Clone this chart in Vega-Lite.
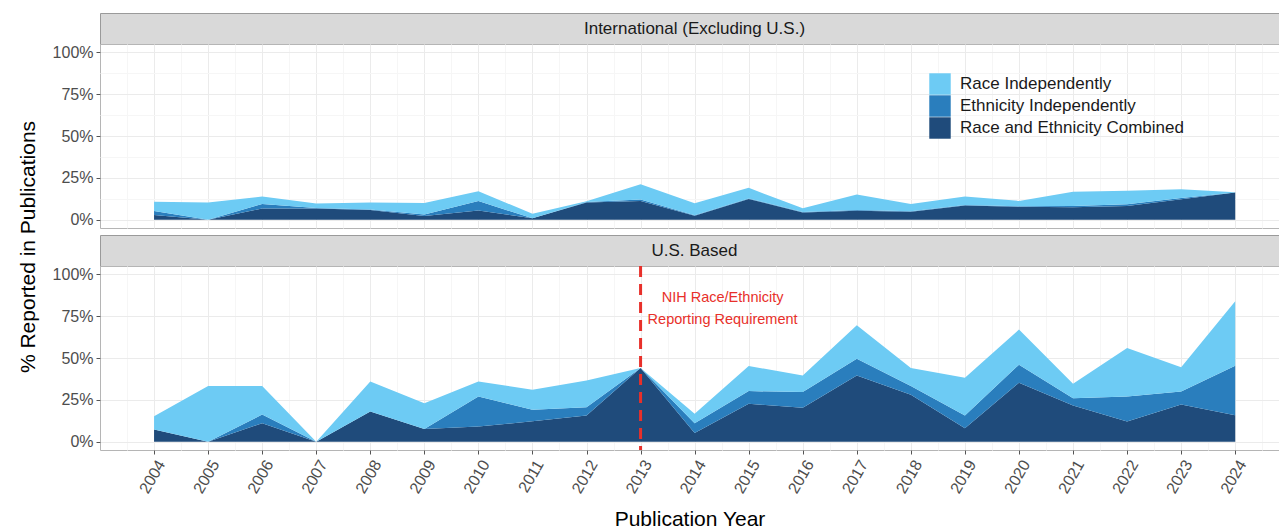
{
  "$schema": "https://vega.github.io/schema/vega-lite/v6.json",
  "background": "white",
  "padding": {"left": 16, "top": 12, "right": 0, "bottom": 0},
  "autosize": {"type": "pad"},
  "config": {
    "font": "Liberation Sans",
    "view": {"stroke": "#B5B5B5", "strokeWidth": 1},
    "axis": {
      "labelFont": "Liberation Sans",
      "titleFont": "Liberation Sans",
      "titleFontWeight": "normal",
      "domain": false
    }
  },
  "datasets": {
    "intl": [
      {"year": 2004, "type": "Race and Ethnicity Combined", "layer": 1, "share": 0.028},
      {"year": 2004, "type": "Ethnicity Independently", "layer": 2, "share": 0.024},
      {"year": 2004, "type": "Race Independently", "layer": 3, "share": 0.055},
      {"year": 2005, "type": "Race and Ethnicity Combined", "layer": 1, "share": 0.0},
      {"year": 2005, "type": "Ethnicity Independently", "layer": 2, "share": 0.0},
      {"year": 2005, "type": "Race Independently", "layer": 3, "share": 0.103},
      {"year": 2006, "type": "Race and Ethnicity Combined", "layer": 1, "share": 0.066},
      {"year": 2006, "type": "Ethnicity Independently", "layer": 2, "share": 0.028},
      {"year": 2006, "type": "Race Independently", "layer": 3, "share": 0.044},
      {"year": 2007, "type": "Race and Ethnicity Combined", "layer": 1, "share": 0.066},
      {"year": 2007, "type": "Ethnicity Independently", "layer": 2, "share": 0.003},
      {"year": 2007, "type": "Race Independently", "layer": 3, "share": 0.028},
      {"year": 2008, "type": "Race and Ethnicity Combined", "layer": 1, "share": 0.057},
      {"year": 2008, "type": "Ethnicity Independently", "layer": 2, "share": 0.003},
      {"year": 2008, "type": "Race Independently", "layer": 3, "share": 0.042},
      {"year": 2009, "type": "Race and Ethnicity Combined", "layer": 1, "share": 0.022},
      {"year": 2009, "type": "Ethnicity Independently", "layer": 2, "share": 0.008},
      {"year": 2009, "type": "Race Independently", "layer": 3, "share": 0.07},
      {"year": 2010, "type": "Race and Ethnicity Combined", "layer": 1, "share": 0.054},
      {"year": 2010, "type": "Ethnicity Independently", "layer": 2, "share": 0.057},
      {"year": 2010, "type": "Race Independently", "layer": 3, "share": 0.059},
      {"year": 2011, "type": "Race and Ethnicity Combined", "layer": 1, "share": 0.008},
      {"year": 2011, "type": "Ethnicity Independently", "layer": 2, "share": 0.0},
      {"year": 2011, "type": "Race Independently", "layer": 3, "share": 0.027},
      {"year": 2012, "type": "Race and Ethnicity Combined", "layer": 1, "share": 0.102},
      {"year": 2012, "type": "Ethnicity Independently", "layer": 2, "share": 0.003},
      {"year": 2012, "type": "Race Independently", "layer": 3, "share": 0.005},
      {"year": 2013, "type": "Race and Ethnicity Combined", "layer": 1, "share": 0.112},
      {"year": 2013, "type": "Ethnicity Independently", "layer": 2, "share": 0.008},
      {"year": 2013, "type": "Race Independently", "layer": 3, "share": 0.092},
      {"year": 2014, "type": "Race and Ethnicity Combined", "layer": 1, "share": 0.023},
      {"year": 2014, "type": "Ethnicity Independently", "layer": 2, "share": 0.003},
      {"year": 2014, "type": "Race Independently", "layer": 3, "share": 0.072},
      {"year": 2015, "type": "Race and Ethnicity Combined", "layer": 1, "share": 0.124},
      {"year": 2015, "type": "Ethnicity Independently", "layer": 2, "share": 0.003},
      {"year": 2015, "type": "Race Independently", "layer": 3, "share": 0.063},
      {"year": 2016, "type": "Race and Ethnicity Combined", "layer": 1, "share": 0.042},
      {"year": 2016, "type": "Ethnicity Independently", "layer": 2, "share": 0.003},
      {"year": 2016, "type": "Race Independently", "layer": 3, "share": 0.023},
      {"year": 2017, "type": "Race and Ethnicity Combined", "layer": 1, "share": 0.053},
      {"year": 2017, "type": "Ethnicity Independently", "layer": 2, "share": 0.005},
      {"year": 2017, "type": "Race Independently", "layer": 3, "share": 0.092},
      {"year": 2018, "type": "Race and Ethnicity Combined", "layer": 1, "share": 0.047},
      {"year": 2018, "type": "Ethnicity Independently", "layer": 2, "share": 0.003},
      {"year": 2018, "type": "Race Independently", "layer": 3, "share": 0.043},
      {"year": 2019, "type": "Race and Ethnicity Combined", "layer": 1, "share": 0.084},
      {"year": 2019, "type": "Ethnicity Independently", "layer": 2, "share": 0.003},
      {"year": 2019, "type": "Race Independently", "layer": 3, "share": 0.052},
      {"year": 2020, "type": "Race and Ethnicity Combined", "layer": 1, "share": 0.077},
      {"year": 2020, "type": "Ethnicity Independently", "layer": 2, "share": 0.003},
      {"year": 2020, "type": "Race Independently", "layer": 3, "share": 0.032},
      {"year": 2021, "type": "Race and Ethnicity Combined", "layer": 1, "share": 0.074},
      {"year": 2021, "type": "Ethnicity Independently", "layer": 2, "share": 0.008},
      {"year": 2021, "type": "Race Independently", "layer": 3, "share": 0.085},
      {"year": 2022, "type": "Race and Ethnicity Combined", "layer": 1, "share": 0.082},
      {"year": 2022, "type": "Ethnicity Independently", "layer": 2, "share": 0.01},
      {"year": 2022, "type": "Race Independently", "layer": 3, "share": 0.08},
      {"year": 2023, "type": "Race and Ethnicity Combined", "layer": 1, "share": 0.122},
      {"year": 2023, "type": "Ethnicity Independently", "layer": 2, "share": 0.008},
      {"year": 2023, "type": "Race Independently", "layer": 3, "share": 0.052},
      {"year": 2024, "type": "Race and Ethnicity Combined", "layer": 1, "share": 0.162},
      {"year": 2024, "type": "Ethnicity Independently", "layer": 2, "share": 0.0},
      {"year": 2024, "type": "Race Independently", "layer": 3, "share": 0.001}
    ],
    "us": [
      {"year": 2004, "type": "Race and Ethnicity Combined", "layer": 1, "share": 0.072},
      {"year": 2004, "type": "Ethnicity Independently", "layer": 2, "share": 0.0},
      {"year": 2004, "type": "Race Independently", "layer": 3, "share": 0.08},
      {"year": 2005, "type": "Race and Ethnicity Combined", "layer": 1, "share": 0.0},
      {"year": 2005, "type": "Ethnicity Independently", "layer": 2, "share": 0.0},
      {"year": 2005, "type": "Race Independently", "layer": 3, "share": 0.332},
      {"year": 2006, "type": "Race and Ethnicity Combined", "layer": 1, "share": 0.11},
      {"year": 2006, "type": "Ethnicity Independently", "layer": 2, "share": 0.052},
      {"year": 2006, "type": "Race Independently", "layer": 3, "share": 0.17},
      {"year": 2007, "type": "Race and Ethnicity Combined", "layer": 1, "share": 0.0},
      {"year": 2007, "type": "Ethnicity Independently", "layer": 2, "share": 0.0},
      {"year": 2007, "type": "Race Independently", "layer": 3, "share": 0.0},
      {"year": 2008, "type": "Race and Ethnicity Combined", "layer": 1, "share": 0.18},
      {"year": 2008, "type": "Ethnicity Independently", "layer": 2, "share": 0.0},
      {"year": 2008, "type": "Race Independently", "layer": 3, "share": 0.18},
      {"year": 2009, "type": "Race and Ethnicity Combined", "layer": 1, "share": 0.076},
      {"year": 2009, "type": "Ethnicity Independently", "layer": 2, "share": 0.0},
      {"year": 2009, "type": "Race Independently", "layer": 3, "share": 0.154},
      {"year": 2010, "type": "Race and Ethnicity Combined", "layer": 1, "share": 0.09},
      {"year": 2010, "type": "Ethnicity Independently", "layer": 2, "share": 0.18},
      {"year": 2010, "type": "Race Independently", "layer": 3, "share": 0.09},
      {"year": 2011, "type": "Race and Ethnicity Combined", "layer": 1, "share": 0.122},
      {"year": 2011, "type": "Ethnicity Independently", "layer": 2, "share": 0.068},
      {"year": 2011, "type": "Race Independently", "layer": 3, "share": 0.12},
      {"year": 2012, "type": "Race and Ethnicity Combined", "layer": 1, "share": 0.156},
      {"year": 2012, "type": "Ethnicity Independently", "layer": 2, "share": 0.05},
      {"year": 2012, "type": "Race Independently", "layer": 3, "share": 0.16},
      {"year": 2013, "type": "Race and Ethnicity Combined", "layer": 1, "share": 0.44},
      {"year": 2013, "type": "Ethnicity Independently", "layer": 2, "share": 0.0},
      {"year": 2013, "type": "Race Independently", "layer": 3, "share": 0.0},
      {"year": 2014, "type": "Race and Ethnicity Combined", "layer": 1, "share": 0.052},
      {"year": 2014, "type": "Ethnicity Independently", "layer": 2, "share": 0.058},
      {"year": 2014, "type": "Race Independently", "layer": 3, "share": 0.056},
      {"year": 2015, "type": "Race and Ethnicity Combined", "layer": 1, "share": 0.226},
      {"year": 2015, "type": "Ethnicity Independently", "layer": 2, "share": 0.076},
      {"year": 2015, "type": "Race Independently", "layer": 3, "share": 0.15},
      {"year": 2016, "type": "Race and Ethnicity Combined", "layer": 1, "share": 0.202},
      {"year": 2016, "type": "Ethnicity Independently", "layer": 2, "share": 0.094},
      {"year": 2016, "type": "Race Independently", "layer": 3, "share": 0.1},
      {"year": 2017, "type": "Race and Ethnicity Combined", "layer": 1, "share": 0.396},
      {"year": 2017, "type": "Ethnicity Independently", "layer": 2, "share": 0.1},
      {"year": 2017, "type": "Race Independently", "layer": 3, "share": 0.2},
      {"year": 2018, "type": "Race and Ethnicity Combined", "layer": 1, "share": 0.28},
      {"year": 2018, "type": "Ethnicity Independently", "layer": 2, "share": 0.052},
      {"year": 2018, "type": "Race Independently", "layer": 3, "share": 0.108},
      {"year": 2019, "type": "Race and Ethnicity Combined", "layer": 1, "share": 0.08},
      {"year": 2019, "type": "Ethnicity Independently", "layer": 2, "share": 0.076},
      {"year": 2019, "type": "Race Independently", "layer": 3, "share": 0.226},
      {"year": 2020, "type": "Race and Ethnicity Combined", "layer": 1, "share": 0.352},
      {"year": 2020, "type": "Ethnicity Independently", "layer": 2, "share": 0.108},
      {"year": 2020, "type": "Race Independently", "layer": 3, "share": 0.21},
      {"year": 2021, "type": "Race and Ethnicity Combined", "layer": 1, "share": 0.216},
      {"year": 2021, "type": "Ethnicity Independently", "layer": 2, "share": 0.044},
      {"year": 2021, "type": "Race Independently", "layer": 3, "share": 0.086},
      {"year": 2022, "type": "Race and Ethnicity Combined", "layer": 1, "share": 0.12},
      {"year": 2022, "type": "Ethnicity Independently", "layer": 2, "share": 0.15},
      {"year": 2022, "type": "Race Independently", "layer": 3, "share": 0.29},
      {"year": 2023, "type": "Race and Ethnicity Combined", "layer": 1, "share": 0.222},
      {"year": 2023, "type": "Ethnicity Independently", "layer": 2, "share": 0.078},
      {"year": 2023, "type": "Race Independently", "layer": 3, "share": 0.144},
      {"year": 2024, "type": "Race and Ethnicity Combined", "layer": 1, "share": 0.158},
      {"year": 2024, "type": "Ethnicity Independently", "layer": 2, "share": 0.296},
      {"year": 2024, "type": "Race Independently", "layer": 3, "share": 0.386}
    ],
    "nih": [
      {"year": 2013, "note": "NIH Race/Ethnicity\nReporting Requirement"}
    ]
  },
  "resolve": {
    "scale": {"x": "independent", "y": "independent", "color": "shared"},
    "axis": {"x": "independent", "y": "independent"},
    "legend": {"color": "shared"}
  },
  "bounds": "flush",
  "spacing": 0,
  "vconcat": [
    {
      "width": 1179,
      "height": 31,
      "view": {"fill": "#D9D9D9", "stroke": "#9A9A9A"},
      "data": {"values": [{"region": "International (Excluding U.S.)"}]},
      "mark": {"type": "text", "fontSize": 17, "color": "#1A1A1A", "dx": 5, "baseline": "middle"},
      "encoding": {"text": {"field": "region"}}
    },
    {
      "width": 1179,
      "height": 184,
      "data": {"name": "intl"},
      "mark": {"type": "area", "opacity": 1},
      "encoding": {
        "x": {
          "field": "year", "type": "quantitative",
          "scale": {"domain": [2003, 2024.81], "nice": false, "zero": false},
          "axis": {
            "title": null, "labels": false, "ticks": false,
            "values": [2003.5, 2004, 2004.5, 2005, 2005.5, 2006, 2006.5, 2007, 2007.5, 2008, 2008.5, 2009, 2009.5, 2010, 2010.5, 2011, 2011.5, 2012, 2012.5, 2013, 2013.5, 2014, 2014.5, 2015, 2015.5, 2016, 2016.5, 2017, 2017.5, 2018, 2018.5, 2019, 2019.5, 2020, 2020.5, 2021, 2021.5, 2022, 2022.5, 2023, 2023.5, 2024, 2024.5],
            "grid": true,
            "gridColor": {"condition": {"test": "floor(datum.value) == datum.value", "value": "#EBEBEB"}, "value": "#F6F6F6"}
          }
        },
        "y": {
          "field": "share", "type": "quantitative", "stack": "zero",
          "scale": {"domain": [-0.05, 1.05], "nice": false, "zero": false},
          "axis": {
            "values": [0, 0.125, 0.25, 0.375, 0.5, 0.625, 0.75, 0.875, 1],
            "labelExpr": "(datum.value * 8) % 2 === 0 ? format(datum.value, '.0%') : ''",
            "labelOverlap": false,
            "labelFontSize": 16, "labelColor": "#4D4D4D", "labelPadding": 3,
            "tickSize": 4, "tickColor": "#555555",
            "tickOpacity": {"condition": {"test": "(datum.value * 8) % 2 === 0", "value": 1}, "value": 0},
            "grid": true,
            "gridColor": {"condition": {"test": "(datum.value * 8) % 2 === 0", "value": "#EBEBEB"}, "value": "#F6F6F6"},
            "title": "% Reported in Publications",
            "titleFontSize": 21, "titleColor": "#000000",
            "titleX": -72, "titleY": 202.5, "titleAngle": 270,
            "titleAlign": "center", "titleBaseline": "middle"
          }
        },
        "color": {
          "field": "type", "type": "nominal",
          "scale": {
            "domain": ["Race Independently", "Ethnicity Independently", "Race and Ethnicity Combined"],
            "range": ["#6DCBF4", "#2A7EBD", "#1F4B7B"]
          },
          "legend": {
            "orient": "none", "legendX": 829, "legendY": 60, "title": null,
            "symbolType": "square", "symbolSize": 460, "symbolStrokeWidth": 0, "symbolOpacity": 1,
            "labelFontSize": 17, "labelColor": "#1A1A1A", "labelOffset": 9, "labelLimit": 400, "rowPadding": 0
          }
        },
        "order": {"field": "layer", "type": "quantitative"}
      }
    },
    {
      "width": 1179,
      "height": 7,
      "view": {"stroke": null},
      "data": {"values": []},
      "mark": "point"
    },
    {
      "width": 1179,
      "height": 31,
      "view": {"fill": "#D9D9D9", "stroke": "#9A9A9A"},
      "data": {"values": [{"region": "U.S. Based"}]},
      "mark": {"type": "text", "fontSize": 17, "color": "#1A1A1A", "dx": 5, "baseline": "middle"},
      "encoding": {"text": {"field": "region"}}
    },
    {
      "width": 1179,
      "height": 184,
      "resolve": {"axis": {"x": "independent"}},
      "layer": [
        {
          "data": {"name": "us"},
          "mark": {"type": "area", "opacity": 1},
          "encoding": {
            "x": {
              "field": "year", "type": "quantitative",
              "scale": {"domain": [2003, 2024.81], "nice": false, "zero": false},
              "axis": {
                "orient": "bottom",
                "title": "Publication Year", "titleFontSize": 21, "titleColor": "#000000", "titlePadding": 13,
                "values": [2004, 2005, 2006, 2007, 2008, 2009, 2010, 2011, 2012, 2013, 2014, 2015, 2016, 2017, 2018, 2019, 2020, 2021, 2022, 2023, 2024],
                "format": "d",
                "labelOverlap": false,
                "labelFlush": false,
                "labelAngle": -60, "labelAlign": "right", "labelBaseline": "top",
                "labelFontSize": 16, "labelColor": "#4D4D4D", "labelPadding": 3,
                "tickSize": 4, "tickColor": "#555555",
                "grid": true, "gridColor": "#EBEBEB"
              }
            },
            "y": {
              "field": "share", "type": "quantitative", "stack": "zero",
              "scale": {"domain": [-0.05, 1.05], "nice": false, "zero": false},
              "axis": {
                "values": [0, 0.125, 0.25, 0.375, 0.5, 0.625, 0.75, 0.875, 1],
                "labelExpr": "(datum.value * 8) % 2 === 0 ? format(datum.value, '.0%') : ''",
                "labelOverlap": false,
                "labelFontSize": 16, "labelColor": "#4D4D4D", "labelPadding": 3,
                "tickSize": 4, "tickColor": "#555555",
                "tickOpacity": {"condition": {"test": "(datum.value * 8) % 2 === 0", "value": 1}, "value": 0},
                "grid": true,
                "gridColor": {"condition": {"test": "(datum.value * 8) % 2 === 0", "value": "#EBEBEB"}, "value": "#F6F6F6"},
                "title": null
              }
            },
            "color": {
              "field": "type", "type": "nominal",
              "scale": {
                "domain": ["Race Independently", "Ethnicity Independently", "Race and Ethnicity Combined"],
                "range": ["#6DCBF4", "#2A7EBD", "#1F4B7B"]
              },
              "legend": {
                "orient": "none", "legendX": 829, "legendY": 60, "title": null,
                "symbolType": "square", "symbolSize": 460, "symbolStrokeWidth": 0, "symbolOpacity": 1,
                "labelFontSize": 17, "labelColor": "#1A1A1A", "labelOffset": 9, "labelLimit": 400, "rowPadding": 0
              }
            },
            "order": {"field": "layer", "type": "quantitative"}
          }
        },
        {
          "data": {"name": "nih"},
          "mark": {"type": "rule", "color": "#E8302A", "strokeWidth": 3, "strokeDash": [11, 7]},
          "encoding": {
            "x": {
              "field": "year", "type": "quantitative",
              "axis": {
                "orient": "bottom", "title": null, "labels": false, "ticks": false,
                "values": [2003.5, 2004.5, 2005.5, 2006.5, 2007.5, 2008.5, 2009.5, 2010.5, 2011.5, 2012.5, 2013.5, 2014.5, 2015.5, 2016.5, 2017.5, 2018.5, 2019.5, 2020.5, 2021.5, 2022.5, 2023.5, 2024.5],
                "grid": true, "gridColor": "#F6F6F6"
              }
            }
          }
        },
        {
          "data": {"name": "nih"},
          "mark": {"type": "text", "color": "#E8302A", "fontSize": 14.5, "lineBreak": "\n", "lineHeight": 22, "dx": 82, "align": "center", "baseline": "middle"},
          "encoding": {
            "x": {"field": "year", "type": "quantitative", "axis": null},
            "y": {"datum": 0.856, "type": "quantitative"},
            "text": {"field": "note"}
          }
        }
      ]
    }
  ]
}
